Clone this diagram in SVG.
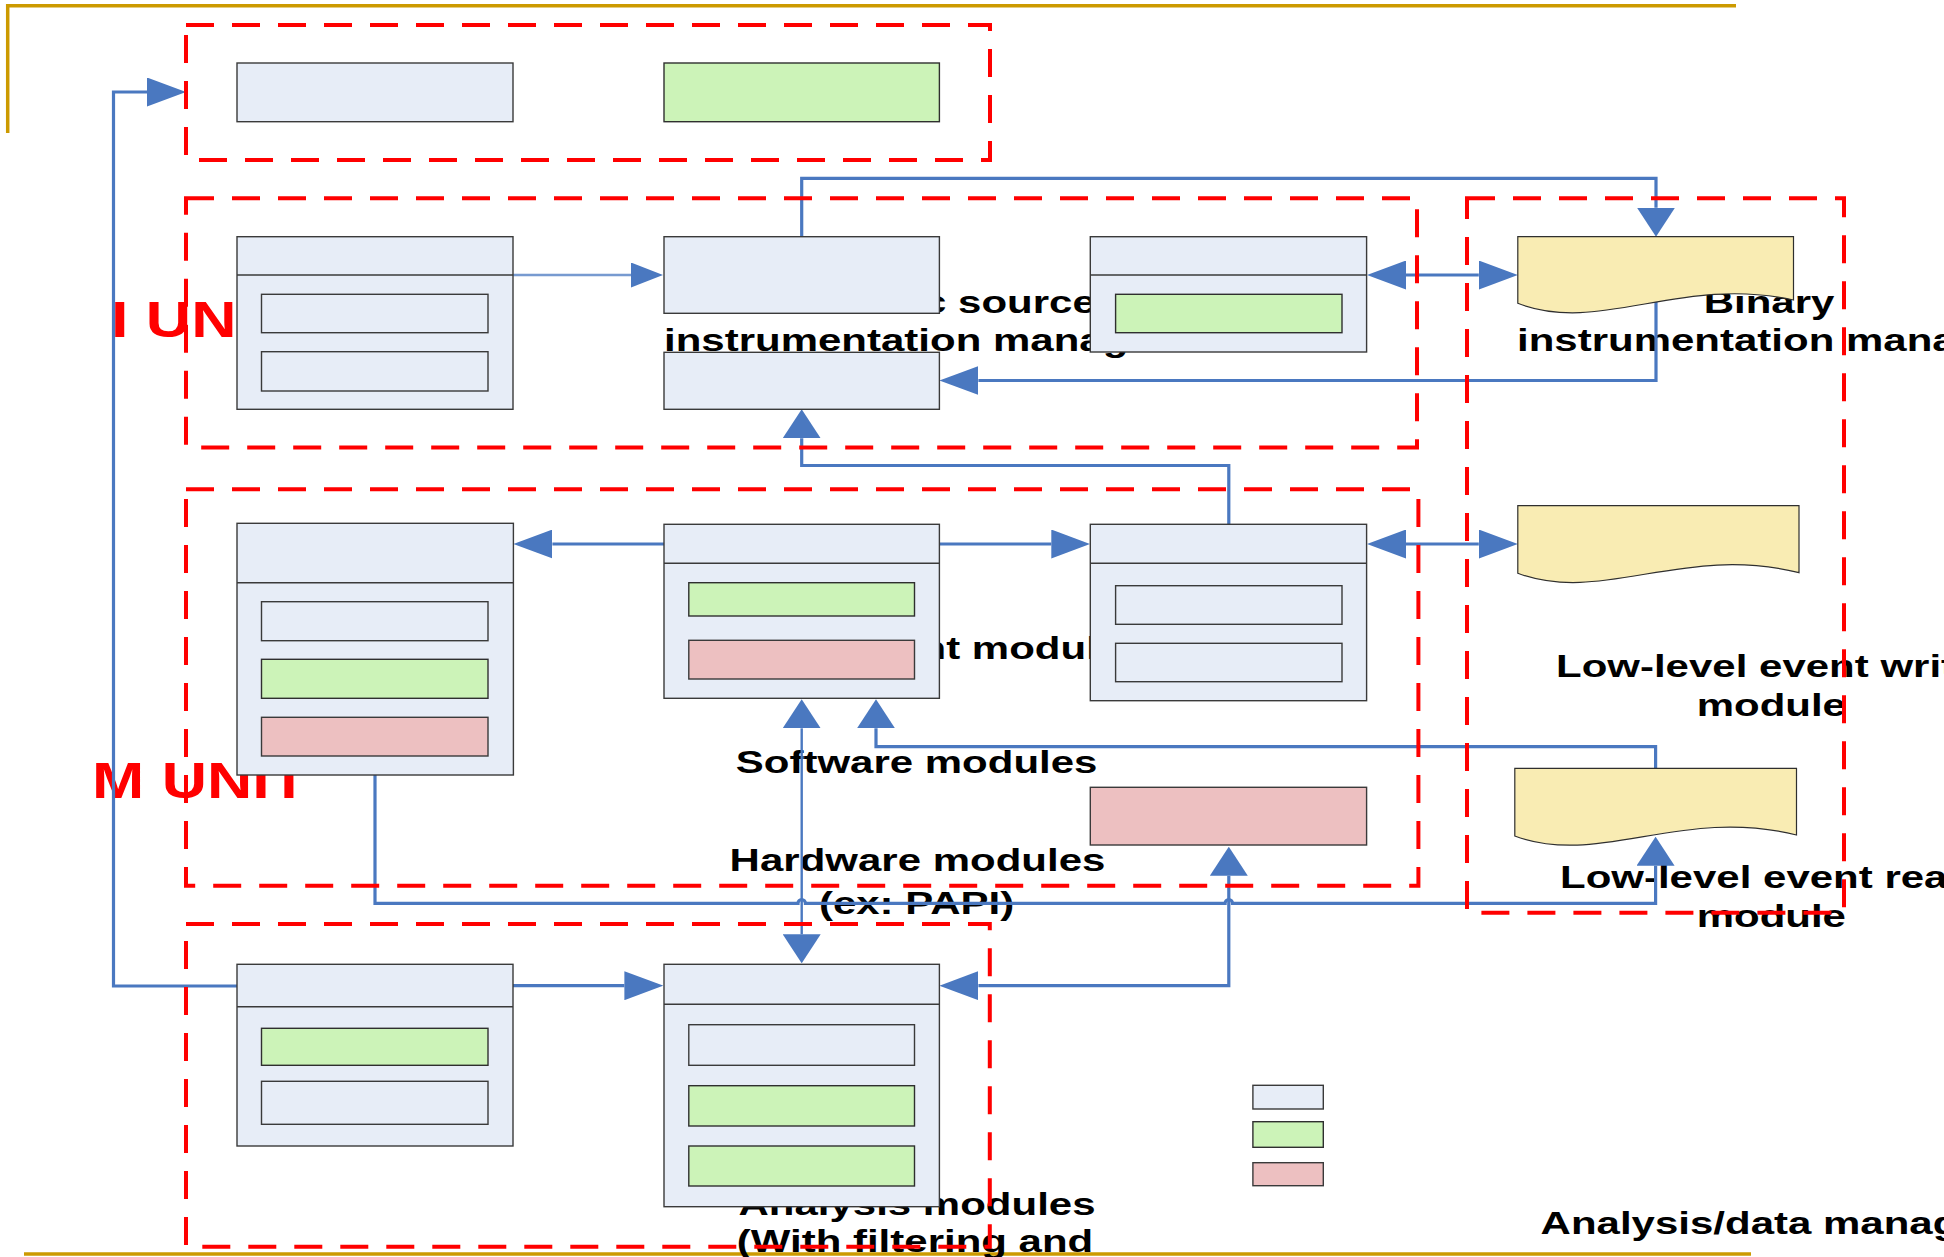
<svg xmlns="http://www.w3.org/2000/svg" width="1944" height="1257" viewBox="0 0 1944 1257">
<style>
.lb{fill:#E7EDF7;stroke:#3a3a3a;stroke-width:1.4}
.gr{fill:#CCF3B8;stroke:#2f2f2f;stroke-width:1.4}
.pk{fill:#EDC0C1;stroke:#3a3a3a;stroke-width:1.4}
.doc{fill:#F9ECB3;stroke:#2f2f2f;stroke-width:1.2}
.div{stroke:#3a3a3a;stroke-width:1.4;fill:none}
.frame{fill:none;stroke:#FF0000;stroke-width:4;stroke-dasharray:28 18}
.gold{fill:none;stroke:#CC9A00;stroke-width:3.5}
.c{fill:none;stroke:#4A78C0;stroke-width:3.2}
.ct{fill:none;stroke:#4A78C0;stroke-width:2.4}
.t{font-family:"Liberation Sans",Arial,sans-serif;font-weight:bold;font-size:31px;fill:#000}
.r{font-family:"Liberation Sans",Arial,sans-serif;font-weight:bold;font-size:49px;fill:#FF0000}
</style>
<defs>
<marker id="ah" markerUnits="userSpaceOnUse" viewBox="0 0 39 29" markerWidth="39" markerHeight="29" refX="0" refY="14.5" orient="auto-start-reverse"><path d="M0,0 L39,14.5 L0,29 Z" fill="#4A78C0"/></marker>
<marker id="av" markerUnits="userSpaceOnUse" viewBox="0 0 29 38" markerWidth="29" markerHeight="38" refX="0" refY="19" orient="auto-start-reverse"><path d="M0,0 L29,19 L0,38 Z" fill="#4A78C0"/></marker>
<marker id="as" markerUnits="userSpaceOnUse" viewBox="0 0 32 25" markerWidth="32" markerHeight="25" refX="0" refY="12.5" orient="auto"><path d="M0,0 L32,12.5 L0,25 Z" fill="#4A78C0"/></marker>
</defs>
<rect width="1944" height="1257" fill="#FFFFFF"/>
<g id="slide-rules">
<path class="gold" d="M7.7,5.7 H1736 M7.7,4 V133"/>
<path class="gold" d="M24,1254 H1751"/>
</g>
<g id="labels">
<text class="r" transform="translate(111,336.7) scale(1.28,1)">I UN</text>
<text class="r" transform="translate(92,798.3) scale(1.28,1)">M UNIT</text>
<text class="t" transform="translate(832,312.7) scale(1.355,1)">Static source</text>
<text class="t" transform="translate(664,351) scale(1.355,1)">instrumentation manager</text>
<text class="t" text-anchor="middle" transform="translate(917,659.3) scale(1.355,1)">Measurement modules</text>
<text class="t" text-anchor="middle" transform="translate(916.6,773.3) scale(1.355,1)">Software modules</text>
<text class="t" text-anchor="middle" transform="translate(917.5,870.7) scale(1.355,1)">Hardware modules</text>
<text class="t" text-anchor="middle" transform="translate(916.5,914) scale(1.355,1)">(ex: PAPI)</text>
<text class="t" text-anchor="middle" transform="translate(917,1215) scale(1.355,1)">Analysis modules</text>
<text class="t" text-anchor="middle" transform="translate(915,1252) scale(1.355,1)">(With filtering and</text>
<text class="t" text-anchor="middle" transform="translate(1769,313.3) scale(1.355,1)">Binary</text>
<text class="t" text-anchor="middle" transform="translate(1769,351) scale(1.355,1)">instrumentation manager</text>
<text class="t" transform="translate(1556,676.7) scale(1.355,1)">Low-level event writer</text>
<text class="t" text-anchor="middle" transform="translate(1771.3,716) scale(1.355,1)">module</text>
<text class="t" transform="translate(1560,888.3) scale(1.355,1)">Low-level event reader</text>
<text class="t" text-anchor="middle" transform="translate(1771.3,926.7) scale(1.355,1)">module</text>
<text class="t" transform="translate(1540.6,1234) scale(1.355,1)">Analysis/data management</text>
</g>
<g id="connectors">
<path class="c" d="M237,986 H113.5 V92 H147" marker-end="url(#ah)"/>
<path class="ct" stroke-opacity="0.75" d="M513,275 H631" marker-end="url(#as)"/>
<path class="c" d="M801.7,236.7 V178.3 H1656 V207.7" marker-end="url(#av)"/>
<path class="c" d="M1656,302 V380.5 H978.4" marker-end="url(#ah)"/>
<path class="c" d="M1406,275 H1478.8" marker-start="url(#ah)" marker-end="url(#ah)"/>
<path class="c" d="M1228.8,524.3 V465.5 H801.7 V438.3" marker-end="url(#av)"/>
<path class="c" d="M664,544 H552.4" marker-end="url(#ah)"/>
<path class="c" d="M939.4,544 H1051.3" marker-end="url(#ah)"/>
<path class="c" d="M1406,544 H1478.8" marker-start="url(#ah)" marker-end="url(#ah)"/>
<path class="c" d="M1655.6,768.3 V746.7 H876 V728.3" marker-end="url(#av)"/>
<path class="ct" d="M801.7,728.3 V934.3" marker-start="url(#av)" marker-end="url(#av)"/>
<path class="c" d="M375,775 V903.3 H798 a3.7,3.7 0 0 1 7.4,0 H1225.1 a3.7,3.7 0 0 1 7.4,0 H1655.6 V865.7" marker-end="url(#av)"/>
<path class="c" d="M1228.8,875.7 V985.7 H978.4" marker-start="url(#av)" marker-end="url(#ah)"/>
<path class="c" d="M513,985.7 H624.4" marker-end="url(#ah)"/>
</g>
<g id="frames">
<rect id="frame-top" class="frame" x="186" y="25" width="804" height="135"/>
<rect id="frame-instr" class="frame" x="186" y="198.3" width="1231" height="249.2"/>
<rect id="frame-lowlevel" class="frame" x="1467" y="198.3" width="377" height="714.4"/>
<rect id="frame-measure" class="frame" x="186" y="489.3" width="1232.4" height="396.4"/>
<rect id="frame-analysis" class="frame" x="186" y="924" width="803.8" height="322.7"/>
</g>
<g id="node-top-left"><rect class="lb" x="237" y="63" width="276" height="58.7"/></g>
<g id="node-top-right"><rect class="gr" x="664" y="63" width="275.4" height="58.7"/></g>
<g id="node-b1">
<rect class="lb" x="237" y="236.7" width="276" height="172.6"/>
<line class="div" x1="237" y1="275" x2="513" y2="275"/>
<rect class="lb" x="261.5" y="294.3" width="226.5" height="38.4"/>
<rect class="lb" x="261.5" y="351.7" width="226.5" height="39.3"/>
</g>
<g id="node-b2"><rect class="lb" x="664" y="236.7" width="275.4" height="76.6"/></g>
<g id="node-b3"><rect class="lb" x="664" y="352.3" width="275.4" height="57"/></g>
<g id="node-c1">
<rect class="lb" x="1090.3" y="236.7" width="276.3" height="115.3"/>
<line class="div" x1="1090.3" y1="275" x2="1366.6" y2="275"/>
<rect class="gr" x="1115.6" y="294.3" width="226.4" height="38.4"/>
</g>
<g id="node-binary-doc"><path class="doc" d="M1517.8,236.7 H1793.5 V300 C1680,275 1600,335 1517.8,303.3 Z"/></g>
<g id="node-e1">
<rect class="lb" x="237" y="523.3" width="276.4" height="251.7"/>
<line class="div" x1="237" y1="582.7" x2="513.4" y2="582.7"/>
<rect class="lb" x="261.5" y="601.7" width="226.5" height="39"/>
<rect class="gr" x="261.5" y="659.3" width="226.5" height="39"/>
<rect class="pk" x="261.5" y="717.3" width="226.5" height="38.7"/>
</g>
<g id="node-e2">
<rect class="lb" x="664" y="524.3" width="275.4" height="174"/>
<line class="div" x1="664" y1="563.3" x2="939.4" y2="563.3"/>
<rect class="gr" x="688.8" y="582.7" width="225.7" height="33.3"/>
<rect class="pk" x="688.8" y="640.3" width="225.7" height="38.7"/>
</g>
<g id="node-e3">
<rect class="lb" x="1090.3" y="524.3" width="276.3" height="176.4"/>
<line class="div" x1="1090.3" y1="563.3" x2="1366.6" y2="563.3"/>
<rect class="lb" x="1115.6" y="585.7" width="226.4" height="38.6"/>
<rect class="lb" x="1115.6" y="643.3" width="226.4" height="38.4"/>
</g>
<g id="node-e4"><rect class="pk" x="1090.3" y="787.3" width="276.3" height="57.7"/></g>
<g id="node-writer-doc"><path class="doc" d="M1517.8,505.7 H1799 V572.7 C1683.7,543.7 1602,604.7 1517.8,573.3 Z"/></g>
<g id="node-reader-doc"><path class="doc" d="M1514.8,768.3 H1796.5 V835 C1681,806.3 1599.3,867.3 1514.8,836 Z"/></g>
<g id="node-f1">
<rect class="lb" x="237" y="964.3" width="276" height="181.7"/>
<line class="div" x1="237" y1="1006.7" x2="513" y2="1006.7"/>
<rect class="gr" x="261.5" y="1028.3" width="226.5" height="37"/>
<rect class="lb" x="261.5" y="1081.3" width="226.5" height="43"/>
</g>
<g id="node-f2">
<rect class="lb" x="664" y="964.3" width="275.4" height="242.4"/>
<line class="div" x1="664" y1="1004.3" x2="939.4" y2="1004.3"/>
<rect class="lb" x="688.8" y="1024.7" width="225.7" height="40.6"/>
<rect class="gr" x="688.8" y="1085.7" width="225.7" height="40.3"/>
<rect class="gr" x="688.8" y="1146" width="225.7" height="40"/>
</g>
<g id="legend">
<rect class="lb" x="1252.9" y="1085.3" width="70.4" height="23.7"/>
<rect class="gr" x="1252.9" y="1121.7" width="70.4" height="25.6"/>
<rect class="pk" x="1252.9" y="1162.7" width="70.4" height="23"/>
</g>
</svg>
